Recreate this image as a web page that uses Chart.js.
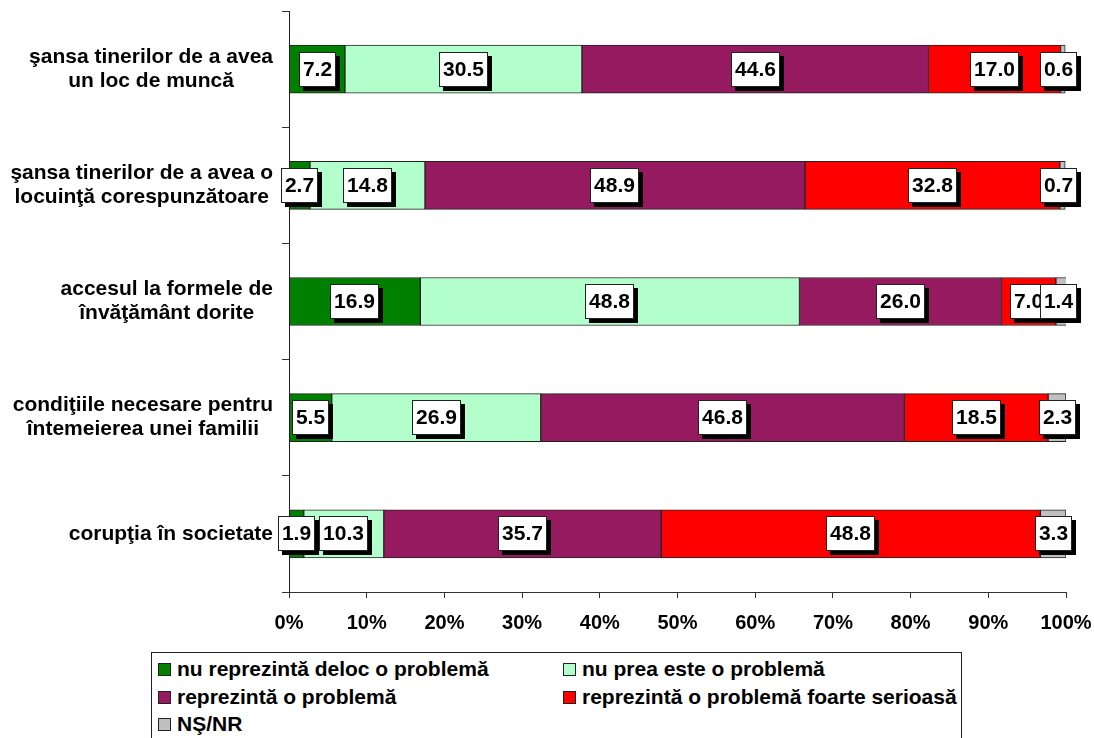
<!DOCTYPE html>
<html>
<head>
<meta charset="utf-8">
<script src="https://cdn.jsdelivr.net/npm/chart.js@4.4.1/dist/chart.umd.min.js"></script>
<style>
  html, body { margin: 0; padding: 0; background: #fff; }
  #wrap { position: relative; width: 1094px; height: 738px; overflow: hidden; }
  #legend { position: absolute; left: 151px; top: 652px; width: 811px; height: 100px; border: 1px solid #222; box-sizing: border-box; background: #fff;
    font-family: "Liberation Sans", Arial, sans-serif; font-weight: bold; font-size: 21px; color: #000; }
  .li { position: absolute; white-space: nowrap; line-height: 24px; height: 24px; }
  .sw { position: absolute; left: 0; top: 6px; width: 11px; height: 11px; border: 1px solid #222; }
  .lt { position: absolute; left: 19px; top: 0; }
</style>
</head>
<body>
<div id="wrap">
  <canvas id="c" width="1094" height="738"></canvas>
  <div id="legend"></div>
</div>
<script>
const categories = [
  ["şansa tinerilor de a avea", "un loc de muncă"],
  ["şansa tinerilor de a avea o", "locuinţă corespunzătoare"],
  ["accesul la formele de", "învăţământ dorite"],
  ["condiţiile necesare pentru", "întemeierea unei familii"],
  ["corupţia în societate"]
];
const seriesNames = [
  "nu reprezintă deloc o problemă",
  "nu prea este o problemă",
  "reprezintă o problemă",
  "reprezintă o problemă foarte serioasă",
  "NŞ/NR"
];
const nuDeloc = [7.2, 2.7, 16.9, 5.5, 1.9];
const nuPrea = [30.5, 14.8, 48.8, 26.9, 10.3];
const problema = [44.6, 48.9, 26.0, 46.8, 35.7];
const foarteSerioasa = [17.0, 32.8, 7.0, 18.5, 48.8];
const nsnr = [0.6, 0.7, 1.4, 2.3, 3.3];
const xTicks = [0, 10, 20, 30, 40, 50, 60, 70, 80, 90, 100];

const colors = ["#008000", "#B3FFCC", "#961A5F", "#FF0000", "#C0C0C0"];
const seriesData = [nuDeloc, nuPrea, problema, foarteSerioasa, nsnr];
const FONT = '"Liberation Sans", Arial, sans-serif';

const datasets = seriesData.map((d, i) => ({
  label: seriesNames[i],
  data: d,
  backgroundColor: colors[i],
  borderColor: "#222",
  borderWidth: 1,
  borderSkipped: false,
  barThickness: 48
}));

const catLabelPlugin = {
  id: "catLabels",
  afterDraw(chart) {
    const ctx = chart.ctx;
    const y = chart.scales.y;
    ctx.save();
    ctx.font = "bold 21px " + FONT;
    ctx.fillStyle = "#000";
    ctx.textAlign = "center";
    ctx.textBaseline = "middle";
    const right = 273, lh = 24;
    categories.forEach((lines, i) => {
      const cy = y.getPixelForValue(i);
      const w = Math.max(...lines.map(l => ctx.measureText(l).width));
      const cx = right - w / 2;
      const y0 = cy - (lines.length - 1) * lh / 2;
      lines.forEach((l, k) => ctx.fillText(l, cx, y0 + k * lh));
    });
    ctx.restore();
  }
};

const valueLabelPlugin = {
  id: "valueLabels",
  afterDatasetsDraw(chart) {
    const ctx = chart.ctx;
    const area = chart.chartArea;
    ctx.save();
    ctx.font = "bold 21px " + FONT;
    ctx.textAlign = "center";
    ctx.textBaseline = "middle";
    chart.data.datasets.forEach((ds, di) => {
      const meta = chart.getDatasetMeta(di);
      meta.data.forEach((bar, i) => {
        const v = ds.data[i];
        const txt = v.toFixed(1);
        const tw = ctx.measureText(txt).width;
        const bw = Math.round(tw + 8), bh = 35;
        let cx = (bar.x + bar.base) / 2;
        if (cx + bw / 2 > area.right + 11) cx = area.right + 11 - bw / 2;
        const x0 = Math.round(cx - bw / 2), y0 = Math.round(bar.y - bh / 2);
        ctx.fillStyle = "#000";
        ctx.fillRect(x0 + 4, y0 + 4, bw, bh);
        ctx.fillStyle = "#fff";
        ctx.fillRect(x0, y0, bw, bh);
        ctx.strokeStyle = "#222";
        ctx.lineWidth = 1;
        ctx.strokeRect(x0 + 0.5, y0 + 0.5, bw - 1, bh - 1);
        ctx.fillStyle = "#000";
        ctx.fillText(txt, x0 + bw / 2, y0 + bh / 2 + 1);
      });
    });
    ctx.restore();
  }
};

new Chart(document.getElementById("c"), {
  type: "bar",
  data: { labels: categories.map(c => c.join(" ")), datasets },
  options: {
    indexAxis: "y",
    responsive: false,
    animation: false,
    layout: { padding: { top: 11, right: 28, left: 0, bottom: 0 } },
    plugins: { legend: { display: false }, tooltip: { enabled: false } },
    scales: {
      x: {
        stacked: true,
        min: 0, max: 100,
        afterFit(s) { s.height = 146; s.paddingLeft = 0; s.paddingRight = 0; },
        afterBuildTicks(s) { s.ticks = xTicks.map(v => ({ value: v })); },
        ticks: {
          callback: v => v + "%",
          color: "#000",
          font: { family: FONT, weight: "bold", size: 20 },
          padding: 13,
          maxRotation: 0
        },
        grid: { drawOnChartArea: false, tickLength: 6, color: "#333" },
        border: { color: "#333", width: 1 }
      },
      y: {
        stacked: true,
        afterFit(s) { s.width = 289; s.paddingTop = 0; s.paddingBottom = 0; },
        ticks: { display: false },
        grid: { drawOnChartArea: false, offset: true, tickLength: 7, color: "#333" },
        border: { color: "#222", width: 1 }
      }
    }
  },
  plugins: [catLabelPlugin, valueLabelPlugin]
});

// legend
const leg = document.getElementById("legend");
const pos = [[6, 4], [411, 4], [6, 31.5], [411, 31.5], [6, 59]];
seriesNames.forEach((n, i) => {
  const d = document.createElement("div");
  d.className = "li";
  d.style.left = pos[i][0] + "px";
  d.style.top = pos[i][1] + "px";
  const sw = document.createElement("span");
  sw.className = "sw";
  sw.style.background = colors[i];
  const t = document.createElement("span");
  t.className = "lt";
  t.textContent = n;
  d.appendChild(sw); d.appendChild(t);
  leg.appendChild(d);
});
</script>
</body>
</html>
